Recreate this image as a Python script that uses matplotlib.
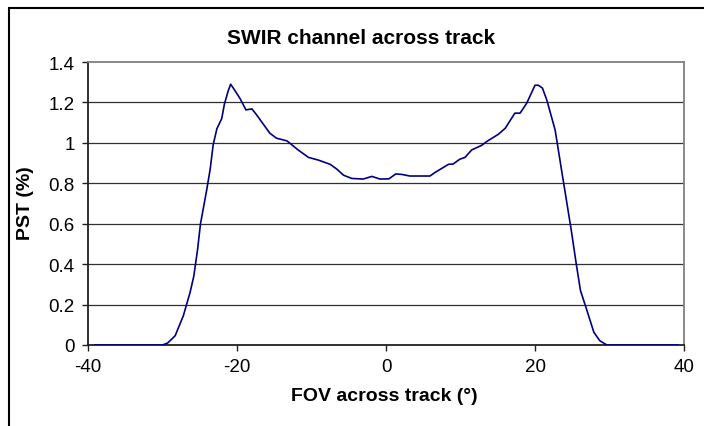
import numpy as np
import matplotlib.pyplot as plt
from matplotlib.patches import Rectangle

plt.rcParams['font.family'] = ['Liberation Sans', 'DejaVu Sans']

# values
fov = [-39.1, -30.0, -29.3, -28.3, -27.2, -26.3, -25.8, -25.3, -24.9, -24.1,
       -23.6, -23.2, -22.7, -22.05, -21.7, -21.2, -20.85, -20.3, -19.6, -18.8,
       -18.0, -17.4, -15.6, -14.7, -13.3, -11.8, -10.4, -9.1, -7.5, -6.6,
       -5.7, -4.6, -3.05, -1.9, -0.8, 0.4, 1.3, 2.1, 3.2, 5.9,
       6.6, 8.4, 9.0, 9.9, 10.6, 11.5, 12.8, 13.5, 15.1, 16.0,
       17.3, 18.0, 18.9, 20.0, 20.45, 21.0, 21.6, 22.7, 23.6, 24.25,
       24.9, 25.5, 26.1, 26.9, 27.9, 28.7, 29.6, 30.0, 39.2]
pst = [0.0, 0.0, 0.01, 0.046, 0.145, 0.26, 0.34, 0.47, 0.6, 0.76,
       0.87, 0.99, 1.07, 1.12, 1.19, 1.255, 1.29, 1.26, 1.22, 1.163,
       1.168, 1.14, 1.048, 1.023, 1.01, 0.965, 0.928, 0.915, 0.894, 0.87,
       0.84, 0.824, 0.821, 0.834, 0.821, 0.822, 0.846, 0.844, 0.836, 0.836,
       0.854, 0.894, 0.895, 0.919, 0.928, 0.965, 0.987, 1.006, 1.043, 1.072,
       1.147, 1.147, 1.197, 1.285, 1.285, 1.271, 1.21, 1.064, 0.857, 0.709,
       0.56, 0.41, 0.27, 0.179, 0.063, 0.021, 0.001, 0.0, 0.0]

xticks = [-40, -20, 0, 20, 40]
yticks = [0, 0.2, 0.4, 0.6, 0.8, 1, 1.2, 1.4]
ytick_labels = ['0', '0.2', '0.4', '0.6', '0.8', '1', '1.2', '1.4']

W, H = 704, 427
fig = plt.figure(figsize=(W / 100, H / 100), dpi=100)
ax = fig.add_axes([88 / W, 1 - 346 / H, (684 - 88) / W, (346 - 63) / H])

for y in yticks[1:-1]:
    ax.axhline(y, color='#303030', lw=0.9, zorder=1)
ax.plot(fov, pst, color='#000080', lw=1.2, zorder=3)

ax.set_xlim(-40, 40)
ax.set_ylim(0, 1.4)
ax.set_xticks(xticks)
ax.set_xticklabels([str(t) for t in xticks])
ax.set_yticks(yticks)
ax.set_yticklabels(ytick_labels)
ax.tick_params(direction='out', length=4.5, width=1, color='#202020',
               labelsize=13.5, pad=5)

ax.spines['left'].set_color('#202020')
ax.spines['bottom'].set_color('#202020')
ax.spines['top'].set_color('#808080')
ax.spines['right'].set_color('#808080')
for s in ax.spines.values():
    s.set_linewidth(1.3)

fig.text(361 / W, 1 - 38 / H, 'SWIR channel across track', ha='center',
         va='center', fontsize=15, fontweight='bold')
fig.text(384 / W, 1 - 397 / H, 'FOV across track (°)', ha='center',
         va='center', fontsize=14, fontweight='bold')
fig.text(26 / W, 1 - 203 / H, 'PST (%)', ha='center', va='center',
         rotation=90, fontsize=14, fontweight='bold')

# chart-area border, cut off at right and bottom like the reference
fig.patches.append(Rectangle((9 / W, -0.1), 1.2, 1 - 9 / H + 0.1,
                             transform=fig.transFigure, fill=False,
                             edgecolor='black', lw=1.5))

fig.savefig('out.png', dpi=100)
